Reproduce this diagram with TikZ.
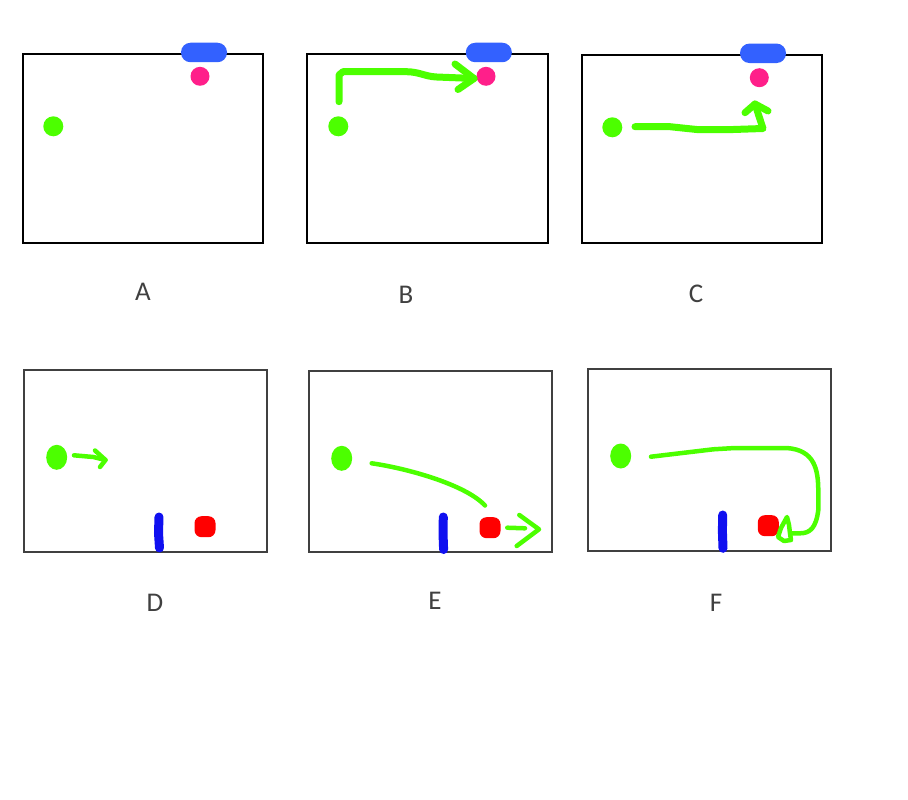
\documentclass[tikz,border=0pt]{standalone}
\usepackage{fontspec}
\setmainfont{Carlito}
\usetikzlibrary{shapes.geometric}

\definecolor{pillblue}{HTML}{3361FF}
\definecolor{pinkdot}{HTML}{FF1F8A}
\definecolor{limegreen}{HTML}{4CFF00}
\definecolor{penblue}{HTML}{1010F0}
\definecolor{penred}{HTML}{FF0000}
\definecolor{labelgray}{HTML}{404040}

\begin{document}
\begin{tikzpicture}[x=1pt, y=-1pt,
    frame/.style = {draw, line width=2pt},
    grayframe/.style = {draw=labelgray, line width=2pt},
    pill/.style = {fill=pillblue, rounded corners=9.5pt, minimum width=46pt, minimum height=19.5pt, inner sep=0pt},
    target/.style = {fill=pinkdot, circle, minimum size=19pt, inner sep=0pt},
    ball/.style = {fill=limegreen, circle, minimum size=20pt, inner sep=0pt},
    blob/.style = {fill=limegreen, ellipse, minimum width=21pt, minimum height=25pt, inner sep=0pt},
    redblob/.style = {fill=penred, rounded corners=7pt, minimum size=21pt, inner sep=0pt},
    wall/.style = {draw=penblue, line width=9pt, line cap=round},
    thick pen/.style = {draw=limegreen, line width=7pt, line cap=round, line join=round},
    thin pen/.style = {draw=limegreen, line width=4.5pt, line cap=round, line join=round},
    caption/.style = {text=labelgray, font=\fontsize{27}{30}\selectfont}]
    \useasboundingbox (0,0) rectangle (908,800);

    % A
    \draw[frame] (22.7,54) rectangle (263.3,242.7);
    \node[pill] (pillA) at (204,52.5) {};
    \node[target] (targetA) at (200,76.3) {};
    \node[ball] (ballA) at (53.3,126.3) {};
    \node[caption] (capA) at (143,292) {A};

    % B
    \draw[frame] (307.3,54) rectangle (548.3,242.7);
    \node[pill] (pillB) at (488.8,52.5) {};
    \node[target] (targetB) at (486,76.3) {};
    \node[ball] (ballB) at (338.3,126.3) {};
    \node[caption] (capB) at (406,295) {B};
    \coordinate (startB) at (339,101.7);
    \coordinate (tipB) at (474,78.5);
    \draw[thick pen] (startB) -- (339,75) -- (343,71.7) -- (406.7,71.7) .. controls (420,72) and (425,76.5) .. (436.7,77) -- (tipB);
    \draw[thick pen] (455,64) -- (tipB) -- (458,89.5);

    % C
    \draw[frame] (581.7,54.7) rectangle (821.7,243.3);
    \node[pill] (pillC) at (763,53.3) {};
    \node[target] (targetC) at (759.3,77.7) {};
    \node[ball] (ballC) at (612.3,127.3) {};
    \node[caption] (capC) at (696,294) {C};
    \coordinate (startC) at (635,126.7);
    \coordinate (tipC) at (755,104);
    \draw[thick pen] (startC) -- (670,126.7) -- (696.7,129.5) -- (733.3,129.5) -- (763,128.5) -- (tipC);
    \draw[thick pen] (745,112.7) -- (tipC) -- (768,111);

    % D
    \draw[grayframe] (24,370) rectangle (266.7,551.7);
    \node[blob] (ballD) at (56.7,457.3) {};
    \node[redblob] (redD) at (205,526.7) {};
    \draw[wall] (159,517) -- (158.5,533) -- (159.5,548);
    \node[caption] (capD) at (155,603) {D};
    \coordinate (startD) at (74,455.3);
    \coordinate (tipD) at (105.5,460);
    \draw[thin pen] (startD) -- (93.3,457) -- (tipD);
    \draw[thin pen] (95,450.5) -- (tipD) -- (100,467);

    % E
    \draw[grayframe] (309,371) rectangle (552.3,552.3);
    \node[blob] (ballE) at (341.7,458.3) {};
    \node[redblob] (redE) at (490,527.7) {};
    \draw[wall] (443.3,517) -- (443,533) -- (443.6,549.5);
    \node[caption] (capE) at (435,601) {E};
    \coordinate (startE) at (371.7,463.3);
    \coordinate (endE) at (485,505.5);
    \draw[thin pen] (startE) .. controls (405,468) and (465,484) .. (endE);
    \coordinate (tailE) at (507.3,527.7);
    \coordinate (tipE) at (539,529.3);
    \draw[thin pen] (tailE) -- (525,528.3);
    \draw[thin pen] (519.3,515) -- (tipE) -- (516.7,546);

    % F
    \draw[grayframe] (587.7,369) rectangle (831,551);
    \node[blob] (ballF) at (620.7,456) {};
    \node[redblob] (redF) at (768.3,525.7) {};
    \draw[wall] (722.7,515) -- (722.4,531) -- (723,548.3);
    \node[caption] (capF) at (716,603) {F};
    \coordinate (startF) at (651,456.7);
    \coordinate (loopF) at (790,533.3);
    \draw[thin pen] (startF) -- (713.3,449.3) -- (735,448) -- (786.7,448)
        .. controls (815,450) and (818,470) .. (818.3,490) -- (818.3,510)
        .. controls (816,528) and (810,533.3) .. (800,533.3) -- (loopF)
        -- (791,540) -- (784,541) -- (778,537) -- (781,528) -- (787,517) -- (789,525) -- (loopF);
\end{tikzpicture}
\end{document}
